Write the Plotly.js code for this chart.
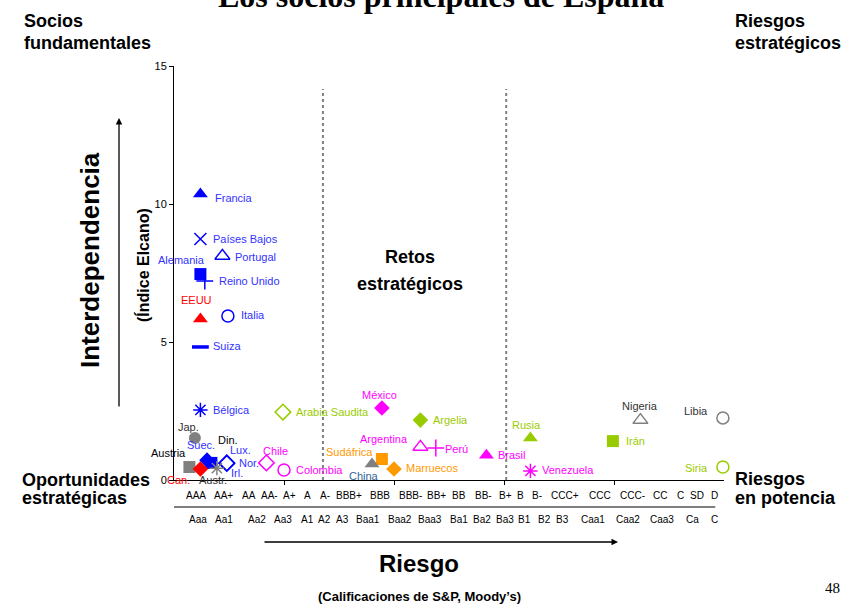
<!DOCTYPE html>
<html>
<head>
<meta charset="utf-8">
<script src="https://cdn.plot.ly/plotly-3.0.1.min.js"></script>
<style>html,body{margin:0;padding:0;background:#fff;}#chart{width:849px;height:608px;}</style>
</head>
<body>
<div id="chart"></div>
<script>
// ---- Data ----
const countries = ["Francia","Países Bajos","Portugal","Alemania","Reino Unido","EEUU","Italia","Suiza","Bélgica",
  "Jap.","Suec.","Din.","Lux.","Nor.","Irl.","Austria","Can.","Austr.",
  "Arabia Saudita","Chile","Colombia","México","Argelia","Argentina","Perú","Sudáfrica","China","Marruecos",
  "Brasil","Rusia","Venezuela","Irán","Nigeria","Libia","Siria"];
const riesgo = [1.2,1.2,2.2,1.2,1.4,1.2,2.45,1.2,1.2,
  0.95,1.5,1.7,1.65,2.4,2.4,0.7,1.2,1.95,
  4.95,4.2,5.0,9.45,11.2,11.2,11.9,9.45,9.0,10.0,
  14.2,16.2,16.2,19.95,21.2,24.95,24.95];
const interdependencia = [10.36,8.73,8.12,7.46,7.21,5.83,5.94,4.82,2.54,
  1.52,0.72,0.62,0.6,0.62,0.6,0.47,0.4,0.43,
  2.46,0.62,0.36,2.61,2.17,1.2,1.16,0.76,0.58,0.4,
  0.9,1.52,0.33,1.41,2.17,2.25,0.47];
const spRatings = ["AAA","AA+","AA","AA-","A+","A","A-","BBB+","BBB","BBB-","BB+","BB","BB-","B+","B","B-","CCC+","CCC","CCC-","CC","C","SD","D"];
const moodysRatings = ["Aaa","Aa1","Aa2","Aa3","A1","A2","A3","Baa1","Baa2","Baa3","Ba1","Ba2","Ba3","B1","B2","B3","Caa1","Caa2","Caa3","Ca","C"];
const yTicks = [0,5,10,15];

// ---- Styles ----
const BLUE='#0000FF', LBLUE='#3333FF', RED='#FF0000', MAG='#FF00FF', GRN='#99CC00', ORG='#FF9900', GRY='#808080';
const symbols = ["triangle-up","x-thin-open","triangle-up-open","square","cross-thin-open","triangle-up","circle-open","line-ew-open","asterisk-open",
  "circle","diamond","square","pentagon","diamond-open","diamond-open","square","diamond","asterisk-open",
  "diamond-open","diamond-open","circle-open","diamond","diamond","triangle-up-open","cross-thin-open","square","triangle-up","diamond",
  "triangle-up","triangle-up","asterisk-open","square","triangle-up-open","circle-open","circle-open"];
const mColors = [BLUE,BLUE,BLUE,BLUE,BLUE,RED,BLUE,BLUE,BLUE,
  GRY,BLUE,BLUE,BLUE,BLUE,BLUE,GRY,RED,GRY,
  GRN,MAG,MAG,MAG,GRN,MAG,MAG,ORG,GRY,ORG,
  MAG,GRN,MAG,GRN,GRY,GRY,GRN];
const lColors = [LBLUE,LBLUE,LBLUE,LBLUE,LBLUE,RED,LBLUE,LBLUE,LBLUE,
  '#333333',LBLUE,'#000000',LBLUE,LBLUE,LBLUE,'#000000',RED,'#333333',
  GRN,MAG,MAG,MAG,GRN,MAG,MAG,ORG,'#336699',ORG,
  MAG,GRN,MAG,GRN,'#333333','#333333',GRN];
const lAnchor = ["left","left","left","right","left","center","left","left","left",
  "center","center","left","left","left","left","right","right","center",
  "left","center","left","center","left","right","left","right","center","left",
  "left","center","left","left","center","right","right"];
const lDx = [13,11,11,7,12,-4,11,11,11,
  -6,-6,5,18,10,2,-1,-8,-4,
  11,9,10,-2,11,-10,7,-7,-8,10,
  10,-4,10,11,0,-13,-13];
const lDy = [4,0,1,-14,0,-19,-1,-1,0,
  -11,-15,-23,-13,0,10,-14,11,12,
  0,-12,0,-13,0,-8,1,-7,12,-1,
  0,-13,-1,0,-14,-7,1];
const spPos = [1.0,2.27,3.41,4.32,5.27,6.09,6.86,7.95,9.36,10.73,11.95,12.95,14.05,15.05,15.77,16.5,17.77,19.36,20.82,22.09,23.0,23.77,24.55];
const moPos = [1.09,2.27,3.77,4.95,6.05,6.82,7.64,8.82,10.27,11.64,12.95,14.0,15.05,15.95,16.86,17.68,19.05,20.64,22.18,23.59,24.55];

const FONT = 'Liberation Sans, Arial, sans-serif';
const L=174, R=724, T=66, B=480;
const px = x => (x-L)/(R-L);
const py = y => (B-y)/(B-T);

const filled = s => !/open/.test(s);
const trace = {
  type:'scatter', mode:'markers', x:riesgo, y:interdependencia, cliponaxis:false, hoverinfo:'text', text:countries,
  marker:{symbol:symbols, color:mColors, opacity:1, size:symbols.map(s=> s==='line-ew-open'?12:(s.indexOf('triangle')===0?13:12)),
    line:{color:mColors, width:symbols.map(s=> s==='line-ew-open'?3.5:(filled(s)?0:1.5))}}
};

const ann = [];
countries.forEach((c,i)=>{
  ann.push({xref:'x',yref:'y',x:riesgo[i],y:interdependencia[i],text:c,showarrow:false,
    xanchor:lAnchor[i],yanchor:'middle',xshift:lDx[i],yshift:-lDy[i],
    font:{family:FONT,size:11,color:lColors[i]}});
});
spRatings.forEach((r,i)=>ann.push({xref:'x',yref:'paper',x:spPos[i],y:py(495),text:r,showarrow:false,xanchor:'center',yanchor:'middle',font:{family:FONT,size:10,color:'#000'}}));
moodysRatings.forEach((r,i)=>ann.push({xref:'x',yref:'paper',x:moPos[i],y:py(519),text:r,showarrow:false,xanchor:'center',yanchor:'middle',font:{family:FONT,size:10,color:'#000'}}));

function txt(t,x,y,size,opts){
  return Object.assign({xref:'paper',yref:'paper',x:px(x),y:py(y),text:t,showarrow:false,xanchor:'center',yanchor:'middle',
    font:{family:FONT,size:size,color:'#000'}},opts||{});
}
ann.push(txt('<b>Los socios principales de España</b>',441,-4,32,{font:{family:'Liberation Serif, Times New Roman, serif',size:32,color:'#000'}}));
ann.push(txt('<b>Socios</b>',22,21,18,{xanchor:'left'}));
ann.push(txt('<b>fundamentales</b>',22,43,18,{xanchor:'left'}));
ann.push(txt('<b>Riesgos</b>',733,21,18,{xanchor:'left'}));
ann.push(txt('<b>estratégicos</b>',733,43,18,{xanchor:'left'}));
ann.push(txt('<b>Oportunidades</b>',20,480,18,{xanchor:'left'}));
ann.push(txt('<b>estratégicas</b>',20,498,18,{xanchor:'left'}));
ann.push(txt('<b>Riesgos</b>',733,479,18,{xanchor:'left'}));
ann.push(txt('<b>en potencia</b>',733,498,18,{xanchor:'left'}));
ann.push(txt('<b>Retos</b>',410,257,18));
ann.push(txt('<b>estratégicos</b>',410,284,18));
ann.push(txt('<b>Interdependencia</b>',90,260,26,{textangle:-90}));
ann.push(txt('<b>(Índice Elcano)</b>',143,265,16,{textangle:-90}));
ann.push(txt('<b>Riesgo</b>',419,563,24));
ann.push(txt('<b>(Calificaciones de S&P, Moody’s)</b>',419,596,13));
ann.push(txt('48',832,588,15,{font:{family:'Liberation Serif, Times New Roman, serif',size:15,color:'#000'}}));
// arrows
ann.push({xref:'paper',yref:'paper',x:px(119),y:py(118),ax:0,ay:290,text:'',showarrow:true,arrowhead:2,arrowsize:1,arrowwidth:1.3,arrowcolor:'#000',standoff:0});
ann.push({xref:'paper',yref:'paper',x:px(618),y:py(542),ax:-355,ay:0,text:'',showarrow:true,arrowhead:2,arrowsize:1,arrowwidth:1.3,arrowcolor:'#000',standoff:0});

const shapes = [
  {type:'line',xref:'x',yref:'y',x0:6.77,x1:6.77,y0:0,y1:14.17,line:{color:'#808080',width:2,dash:'dot'}},
  {type:'line',xref:'x',yref:'y',x0:15.1,x1:15.1,y0:0,y1:14.17,line:{color:'#808080',width:2,dash:'dot'}},
  {type:'line',xref:'x',yref:'paper',x0:0,x1:24.6,y0:py(507),y1:py(507),line:{color:'#000',width:1}}
];

const layout = {
  width:849,height:608,margin:{l:L,r:849-R,t:T,b:608-B},
  paper_bgcolor:'#fff',plot_bgcolor:'#fff',showlegend:false,
  font:{family:FONT,size:11,color:'#000'},
  xaxis:{range:[0,25],showgrid:false,zeroline:false,showline:true,linecolor:'#000',linewidth:1,
    tickmode:'array',tickvals:[5,10,15,20],ticks:'outside',ticklen:4,tickcolor:'#000',showticklabels:false,fixedrange:true},
  yaxis:{range:[0,15],showgrid:false,zeroline:false,showline:true,linecolor:'#000',linewidth:1,
    tickmode:'array',tickvals:yTicks,ticks:'outside',ticklen:4,tickcolor:'#000',tickfont:{family:FONT,size:11,color:'#000'},fixedrange:true},
  annotations:ann, shapes:shapes
};
Plotly.newPlot('chart',[trace],layout,{displayModeBar:false,staticPlot:true});
</script>
</body>
</html>
